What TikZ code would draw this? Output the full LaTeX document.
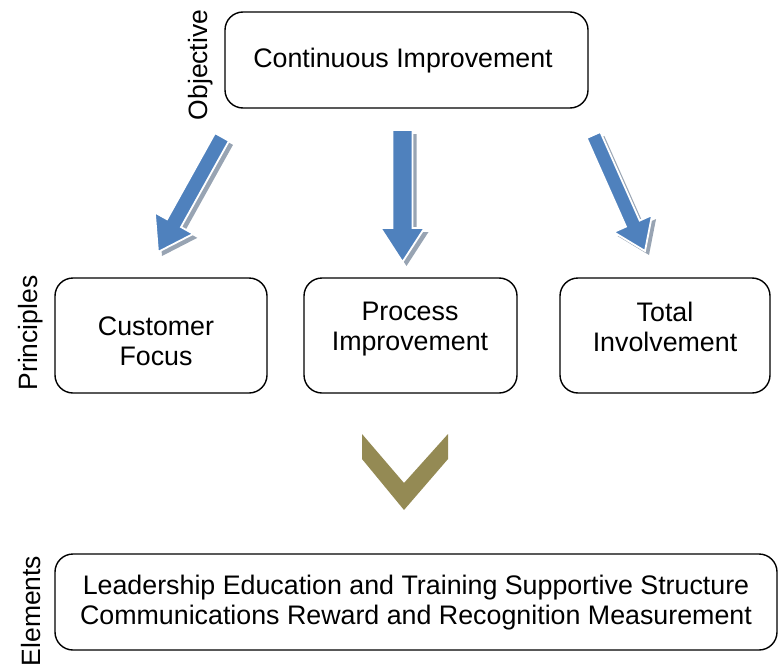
\documentclass[tikz,border=0pt]{standalone}
\usepackage{fontspec}
\setmainfont{Liberation Sans}
\begin{document}
\begin{tikzpicture}[x=1pt,y=-1pt,
  box/.style={draw=black, line width=1.4pt, rounded corners=18pt, fill=white},
  txt/.style={font=\fontsize{26.8}{30}\selectfont, align=center, inner sep=0pt},
  side/.style={font=\fontsize{26.5}{30}\selectfont, rotate=90, inner sep=0pt},
  arrowshadow/.style={fill=shadowgray, draw=none},
  arrowbody/.style={fill=arrowblue, draw=white, line width=1.8pt, line join=miter},
]
\definecolor{arrowblue}{HTML}{4F81BD}
\definecolor{shadowgray}{HTML}{98A4B3}
\definecolor{olive}{HTML}{948A54}
\useasboundingbox (0,0) rectangle (778,666);

% boxes
\draw[box] (225,12) rectangle (588,108);
\draw[box] (55,278) rectangle (267,393);
\draw[box] (304,278) rectangle (517,393);
\draw[box] (560,278) rectangle (770,393);
\draw[box] (55,554) rectangle (777,650);

% texts
\node[txt] (obj) at (403,61) {Continuous Improvement};
\node[txt] (cf) at (156,341.5) {Customer\\Focus};
\node[txt] (pi) at (410,329) {Process\\Improvement};
\node[txt] (ti) at (665,326.5) {Total\\Involvement};
\node[txt] (el) at (416,603) {Leadership Education and Training Supportive Structure\\Communications Reward and Recognition Measurement};

% side labels
\node[side] (lobj) at (201,65) {Objective};
\node[side] (lpri) at (31,333) {Principles};
\node[side] (lele) at (31,611) {Elements};

% left arrow
\begin{scope}[shift={(4,4)}]
\fill[arrowshadow] (228.99,140.89) -- (181.04,227.05) -- (193.27,233.86) -- (158,252) -- (154.83,212.46) -- (167.06,219.27) -- (215.01,133.11) -- cycle;
\end{scope}
\filldraw[arrowbody] (228.99,140.89) -- (181.04,227.05) -- (193.27,233.86) -- (158,252) -- (154.83,212.46) -- (167.06,219.27) -- (215.01,133.11) -- cycle;

% center arrow
\begin{scope}[shift={(4,4)}]
\fill[arrowshadow] (392.5,130) -- (412.5,130) -- (412.5,228) -- (424.5,228) -- (402.5,262) -- (380.5,228) -- (392.5,228) -- cycle;
\end{scope}
\filldraw[arrowbody] (392.5,130) -- (412.5,130) -- (412.5,228) -- (424.5,228) -- (402.5,262) -- (380.5,228) -- (392.5,228) -- cycle;

% right arrow
\begin{scope}[shift={(4,4)}]
\fill[arrowshadow] (586.64,138.04) -- (625.97,226.62) -- (613.63,232.10) -- (645,251) -- (652.03,215.06) -- (639.69,220.54) -- (600.36,131.96) -- cycle;
\end{scope}
\filldraw[arrowbody] (586.64,138.04) -- (625.97,226.62) -- (613.63,232.10) -- (645,251) -- (652.03,215.06) -- (639.69,220.54) -- (600.36,131.96) -- cycle;

% chevron
\fill[olive] (362,434) -- (404,483) -- (448,434) -- (448,459) -- (404,510) -- (362,459) -- cycle;
\end{tikzpicture}
\end{document}
